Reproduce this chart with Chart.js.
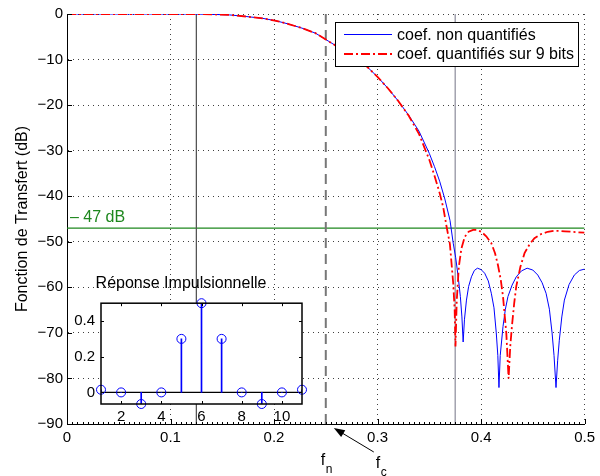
<!DOCTYPE html>
<html><head><meta charset="utf-8">
<script src="https://cdn.jsdelivr.net/npm/chart.js@4"></script>
<style>
html,body{margin:0;padding:0;background:#fff;}
#wrap{position:relative;width:600px;height:476px;overflow:hidden;}
#main{position:absolute;left:0;top:0;}
#inset{position:absolute;left:60px;top:270px;}
</style></head><body>
<div id="wrap">
<canvas id="main" width="600" height="476"></canvas>
<canvas id="inset" width="283" height="160"></canvas>
</div>
<script>
// ---------- data ----------
const freqTicks = [0, 0.1, 0.2, 0.3, 0.4, 0.5];
const dbTicks = [-90, -80, -70, -60, -50, -40, -30, -20, -10, 0];
const minorFreqStep = 0.005;

const blueFreq = [0, 0.05, 0.10, 0.125, 0.14, 0.157, 0.173, 0.189, 0.202, 0.214,
  0.227, 0.240, 0.250, 0.260, 0.270, 0.280, 0.290, 0.300, 0.310, 0.320,
  0.330, 0.340, 0.350, 0.355, 0.360, 0.365, 0.370, 0.3731, 0.3755, 0.3779,
  0.3800, 0.3815, 0.3827, 0.3840, 0.3859, 0.3880, 0.3907, 0.3935, 0.3965, 0.4000,
  0.4035, 0.4070, 0.4099, 0.4125, 0.4147, 0.4162, 0.4173, 0.4185, 0.4212, 0.4235,
  0.4260, 0.4300, 0.4340, 0.4390, 0.4445, 0.4500, 0.4548, 0.4590, 0.4628, 0.4660,
  0.4686, 0.4705, 0.4724, 0.4740, 0.4756, 0.4780, 0.4805, 0.4850, 0.4901, 0.4950,
  0.5000];
const blueDb = [0, 0, 0, -0.02, -0.08, -0.2, -0.55, -0.95, -1.5, -2.2,
  -3.1, -4.2, -5.6, -7.0, -8.4, -9.9, -11.6, -13.8, -16.3, -19.1,
  -22.2, -25.7, -30.6, -33.5, -36.7, -40.6, -45.3, -50.3, -53.5, -57.7,
  -62.0, -66.5, -72.0, -67.0, -62.8, -59.8, -57.7, -56.3, -55.8, -56.1,
  -56.9, -58.6, -61.3, -64.5, -70.0, -75.0, -82.0, -75.0, -68.6, -64.8,
  -62.0, -59.5, -57.7, -56.4, -55.8, -56.2, -57.3, -59.0, -61.3, -64.8,
  -70.0, -75.0, -82.0, -76.0, -71.6, -66.5, -62.8, -59.4, -57.3, -56.3,
  -56.0];

const redFreq = [0, 0.05, 0.10, 0.125, 0.14, 0.157, 0.173, 0.189, 0.202, 0.214,
  0.227, 0.240, 0.250, 0.260, 0.270, 0.280, 0.290, 0.300, 0.310, 0.320,
  0.330, 0.340, 0.350, 0.355, 0.360, 0.3635, 0.3667, 0.3699, 0.3731, 0.3745,
  0.3753, 0.3765, 0.3785, 0.3810, 0.3843, 0.3880, 0.3923, 0.3960, 0.4003, 0.4050,
  0.4099, 0.4135, 0.4163, 0.4190, 0.4212, 0.4244, 0.4266, 0.4282, 0.4298, 0.4320,
  0.4340, 0.4380, 0.4420, 0.4470, 0.4516, 0.4580, 0.4644, 0.4700, 0.4756, 0.4810,
  0.4868, 0.4930, 0.5000];
const redDb = [0, 0, 0, -0.02, -0.08, -0.2, -0.55, -0.95, -1.5, -2.2,
  -3.1, -4.2, -5.6, -7.0, -8.4, -9.9, -11.6, -13.8, -16.3, -19.1,
  -22.3, -26.3, -32.0, -35.5, -39.3, -42.5, -46.7, -50.5, -59.1, -65.0,
  -73.0, -63.0, -55.5, -51.5, -48.9, -47.8, -47.4, -47.4, -47.8, -48.8,
  -50.3, -52.5, -55.1, -58.3, -62.0, -70.1, -80.0, -73.0, -68.6, -63.5,
  -59.8, -55.5, -52.5, -50.5, -49.2, -48.3, -47.8, -47.6, -47.6, -47.7,
  -47.8, -47.9, -48.0];

const seriesLabels = ['coef. non quantifiés', 'coef. quantifiés sur 9 bits'];
const passEdge = 0.125;
const stopEdge = 0.375;
const halfBand = 0.25;
const thresholdDb = -47;
const thresholdLabel = '\u2013 47 dB';
const yTitle = 'Fonction de Transfert (dB)';

const tapIndex = [1, 2, 3, 4, 5, 6, 7, 8, 9, 10, 11];
const tapValue = [0.015, 0, -0.065, 0, 0.30, 0.50, 0.30, 0, -0.065, 0, 0.015];
const insetXTicks = [2, 4, 6, 8, 10];
const insetYTicks = [0, 0.2, 0.4];
const insetTitle = 'Réponse Impulsionnelle';

// ---------- helpers ----------
const FONT = '"Liberation Sans", Arial, Helvetica, sans-serif';
const GREEN = 'rgb(30,135,30)';
const pts = (xs, ys) => xs.map((x, i) => ({x: x, y: ys[i]}));
const minus = v => String(v).replace('-', '\u2212');

// ---------- main chart ----------
const mainPlugin = {
  id: 'mainDecor',
  afterDraw(chart) {
    const ctx = chart.ctx;
    const xs = chart.scales.x, ys = chart.scales.y;
    ctx.save();
    // inward tick marks
    ctx.strokeStyle = '#000';
    ctx.lineWidth = 1;
    freqTicks.forEach(v => {
      const p = Math.round(xs.getPixelForValue(v)) + 0.5;
      ctx.beginPath(); ctx.moveTo(p, ys.bottom); ctx.lineTo(p, ys.bottom - 5); ctx.stroke();
    });
    for (let v = xs.min; v <= xs.max + 1e-9; v += minorFreqStep) {
      const p = Math.round(xs.getPixelForValue(v)) + 0.5;
      ctx.beginPath(); ctx.moveTo(p, ys.bottom); ctx.lineTo(p, ys.bottom - 2); ctx.stroke();
    }
    dbTicks.forEach(v => {
      const p = Math.round(ys.getPixelForValue(v)) + 0.5;
      ctx.beginPath(); ctx.moveTo(xs.left, p); ctx.lineTo(xs.left + 5, p); ctx.stroke();
    });
    // threshold label
    ctx.fillStyle = GREEN;
    ctx.font = '16px ' + FONT;
    ctx.textBaseline = 'alphabetic';
    ctx.textAlign = 'left';
    ctx.fillText(thresholdLabel, xs.left + 3, ys.getPixelForValue(thresholdDb) - 6);
    // f_n and f_c labels
    const xh = xs.getPixelForValue(halfBand);
    ctx.fillStyle = '#000';
    ctx.font = '16px ' + FONT;
    ctx.fillText('f', xh - 5, ys.bottom + 41);
    ctx.font = '12px ' + FONT;
    ctx.fillText('n', xh + 0, ys.bottom + 49);
    ctx.font = '16px ' + FONT;
    ctx.fillText('f', xh + 50, ys.bottom + 44);
    ctx.font = '12px ' + FONT;
    ctx.fillText('c', xh + 55, ys.bottom + 51.5);
    // arrow
    const tx = xh + 8, ty = ys.bottom + 4;
    const sx = xh + 48, sy = ys.bottom + 28;
    const ang = Math.atan2(ty - sy, tx - sx);
    ctx.strokeStyle = '#000';
    ctx.lineWidth = 1;
    ctx.beginPath(); ctx.moveTo(sx, sy); ctx.lineTo(tx - 6 * Math.cos(ang), ty - 6 * Math.sin(ang)); ctx.stroke();
    ctx.beginPath();
    ctx.moveTo(tx, ty);
    ctx.lineTo(tx - 11 * Math.cos(ang) + 4 * Math.sin(ang), ty - 11 * Math.sin(ang) - 4 * Math.cos(ang));
    ctx.lineTo(tx - 11 * Math.cos(ang) - 4 * Math.sin(ang), ty - 11 * Math.sin(ang) + 4 * Math.cos(ang));
    ctx.closePath();
    ctx.fill();
    // legend box
    const lx = 335, ly = 22, lw = 243, lh = 44;
    ctx.fillStyle = '#fff';
    ctx.fillRect(lx, ly, lw, lh);
    ctx.strokeStyle = '#000';
    ctx.lineWidth = 1;
    ctx.strokeRect(lx + 0.5, ly + 0.5, lw, lh);
    const entries = [chart.data.datasets[1], chart.data.datasets[0]];
    entries.forEach((ds, i) => {
      const yy = ly + 12.5 + i * 19.5;
      ctx.save();
      ctx.strokeStyle = ds.borderColor;
      ctx.lineWidth = ds.borderWidth;
      ctx.setLineDash(ds.borderDash || []);
      ctx.beginPath(); ctx.moveTo(lx + 9, yy); ctx.lineTo(lx + 57, yy); ctx.stroke();
      ctx.restore();
      ctx.fillStyle = '#000';
      ctx.font = '16px ' + FONT;
      ctx.textBaseline = 'middle';
      ctx.fillText(ds.label, lx + 62, yy + 1);
    });
    ctx.restore();
  }
};

new Chart(document.getElementById('main'), {
  type: 'scatter',
  data: {
    datasets: [
      {label: seriesLabels[1], data: pts(redFreq, redDb), showLine: true, borderColor: '#ff0000',
       borderWidth: 1.8, borderDash: [9, 3, 2, 3], pointRadius: 0, fill: false},
      {label: seriesLabels[0], data: pts(blueFreq, blueDb), showLine: true, borderColor: '#0000ff',
       borderWidth: 1, pointRadius: 0, fill: false},
      {label: 'passEdge', data: pts([passEdge, passEdge], [0, -90]), showLine: true,
       borderColor: '#555555', borderWidth: 1, pointRadius: 0},
      {label: 'stopEdge', data: pts([stopEdge, stopEdge], [0, -90]), showLine: true,
       borderColor: '#8a8a9a', borderWidth: 1.2, pointRadius: 0},
      {label: 'halfBand', data: pts([halfBand, halfBand], [0, -90]), showLine: true,
       borderColor: '#777777', borderWidth: 2, borderDash: [10, 6], pointRadius: 0},
      {label: 'threshold', data: pts([0, 0.5], [thresholdDb, thresholdDb]), showLine: true,
       borderColor: GREEN, borderWidth: 1.2, pointRadius: 0}
    ]
  },
  options: {
    responsive: false,
    animation: false,
    devicePixelRatio: 1,
    layout: {padding: {top: 14, right: 13, left: 0, bottom: 0}},
    plugins: {legend: {display: false}, tooltip: {enabled: false}},
    scales: {
      x: {
        type: 'linear', min: 0, max: 0.5,
        afterBuildTicks: s => { s.ticks = freqTicks.map(v => ({value: v})); },
        afterFit: s => { s.height = 52; },
        ticks: {font: {size: 15, family: FONT}, color: '#000', padding: 5, maxRotation: 0,
                callback: v => minus(v)},
        grid: {color: 'rgba(0,0,0,0.75)', lineWidth: 1, drawTicks: false},
        border: {display: true, color: '#000', width: 1, dash: [1, 4]}
      },
      y: {
        type: 'linear', min: -90, max: 0,
        afterBuildTicks: s => { s.ticks = dbTicks.map(v => ({value: v})); },
        afterFit: s => { s.width = 67; },
        ticks: {font: {size: 15, family: FONT}, color: '#000', padding: 4,
                callback: v => minus(v)},
        grid: {color: 'rgba(0,0,0,0.75)', lineWidth: 1, drawTicks: false},
        border: {display: true, color: '#000', width: 1, dash: [1, 4]},
        title: {display: true, text: yTitle, color: '#000', font: {size: 16, family: FONT},
                padding: {top: 13, bottom: 0}}
      }
    }
  },
  plugins: [mainPlugin]
});

// ---------- inset chart ----------
const insetPlugin = {
  id: 'insetDecor',
  beforeDatasetsDraw(chart) {
    const a = chart.chartArea, ctx = chart.ctx;
    ctx.save();
    ctx.fillStyle = '#fff';
    ctx.fillRect(a.left, a.top, a.right - a.left, a.bottom - a.top);
    ctx.restore();
  },
  afterDraw(chart) {
    const a = chart.chartArea, ctx = chart.ctx;
    const xs = chart.scales.x, ys = chart.scales.y;
    ctx.save();
    ctx.strokeStyle = '#000';
    ctx.lineWidth = 1.5;
    ctx.strokeRect(a.left, a.top, a.right - a.left, a.bottom - a.top);
    ctx.lineWidth = 1;
    insetXTicks.forEach(v => {
      const p = Math.round(xs.getPixelForValue(v)) + 0.5;
      ctx.beginPath(); ctx.moveTo(p, a.bottom); ctx.lineTo(p, a.bottom - 3); ctx.stroke();
      ctx.beginPath(); ctx.moveTo(p, a.top); ctx.lineTo(p, a.top + 3); ctx.stroke();
    });
    insetYTicks.forEach(v => {
      const p = Math.round(ys.getPixelForValue(v)) + 0.5;
      ctx.beginPath(); ctx.moveTo(a.left, p); ctx.lineTo(a.left + 3, p); ctx.stroke();
      ctx.beginPath(); ctx.moveTo(a.right, p); ctx.lineTo(a.right - 3, p); ctx.stroke();
    });
    ctx.restore();
  }
};

new Chart(document.getElementById('inset'), {
  type: 'scatter',
  data: {
    datasets: [
      {label: 'taps', data: pts(tapIndex, tapValue), showLine: false, pointStyle: 'circle',
       pointRadius: 4.5, borderColor: '#0000ff', backgroundColor: 'rgba(0,0,0,0)', borderWidth: 1, clip: false},
      {type: 'bar', label: 'stems', data: pts(tapIndex, tapValue), backgroundColor: '#0000ff',
       borderWidth: 0, barThickness: 1, grouped: false},
      {label: 'baseline', data: pts([1, 11], [0, 0]), showLine: true, borderColor: '#000',
       borderWidth: 1.3, pointRadius: 0}
    ]
  },
  options: {
    responsive: false,
    animation: false,
    devicePixelRatio: 1,
    layout: {padding: {top: 0, right: 41, left: 0, bottom: 0}},
    plugins: {
      legend: {display: false}, tooltip: {enabled: false},
      title: {display: true, text: insetTitle, color: '#000', font: {size: 16, family: FONT, weight: 'normal'},
              padding: {top: 4, bottom: 10}}
    },
    scales: {
      x: {
        type: 'linear', min: 1, max: 11, offset: false,
        afterBuildTicks: s => { s.ticks = insetXTicks.map(v => ({value: v})); },
        afterFit: s => { s.height = 26; },
        ticks: {font: {size: 15, family: FONT}, color: '#000', padding: 4, maxRotation: 0},
        grid: {display: false, drawTicks: false},
        border: {display: false}
      },
      y: {
        type: 'linear', min: -0.065, max: 0.5,
        afterBuildTicks: s => { s.ticks = insetYTicks.map(v => ({value: v})); },
        afterFit: s => { s.width = 41; },
        ticks: {font: {size: 15, family: FONT}, color: '#000', padding: 6},
        grid: {display: false, drawTicks: false},
        border: {display: false}
      }
    }
  },
  plugins: [insetPlugin]
});
</script>
</body></html>
